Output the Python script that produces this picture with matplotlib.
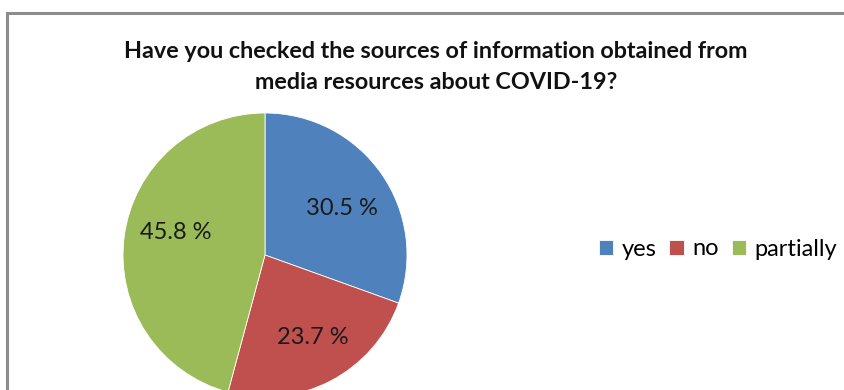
import matplotlib.pyplot as plt
from matplotlib.patches import Rectangle

# Answers to the survey question
labels = ["yes", "no", "partially"]
shares = [30.5, 23.7, 45.8]
colors = ["#4F81BD", "#C0504D", "#9BBB59"]

title = "Have you checked the sources of information obtained from\nmedia resources about COVID-19?"

# where each percentage label sits inside the pie (unit-radius coords)
label_pos = [(0.54, 0.33), (0.34, -0.58), (-0.63, 0.155)]

W, H = 844, 390
fig = plt.figure(figsize=(W / 100, H / 100), dpi=100)
plt.rcParams['font.family'] = ['Lato', 'DejaVu Sans']

# chart frame, running off the right and bottom edges
fig.patches.append(Rectangle((7 / W, -0.1), 1.0, (H - 13) / H + 0.1,
                             transform=fig.transFigure, fill=False,
                             edgecolor="#8c8c8c", linewidth=2.2))

# pie axes, radius 142 px, centered at (265, 255) from the top
cx, cy, r = 265, H - 255, 142
ax = fig.add_axes([(cx - r) / W, (cy - r) / H, 2 * r / W, 2 * r / H])
wedges, texts, autotexts = ax.pie(
    shares, colors=colors, startangle=90, counterclock=False,
    autopct="%.1f %%", pctdistance=0.65,
    wedgeprops=dict(edgecolor="white", linewidth=0.6),
    textprops=dict(fontsize=17, color="#1a1a1a"))
for t, pos in zip(autotexts, label_pos):
    t.set_position(pos)
ax.set_xlim(-1, 1)
ax.set_ylim(-1, 1)
ax.set_aspect("equal")
for w in wedges:
    w.set_clip_on(False)

fig.text(436 / W, 1 - 67 / H, title, ha="center", va="center",
         fontsize=16.8, fontweight="bold", linespacing=1.6, color="#111111")

fig.legend(wedges, labels, loc="center", bbox_to_anchor=(718 / W, 1 - 249 / H),
           ncol=3, frameon=False, fontsize=17, handlelength=0.62,
           handleheight=0.62, handletextpad=0.35, columnspacing=0.55)

fig.savefig("out.png", dpi=100)
